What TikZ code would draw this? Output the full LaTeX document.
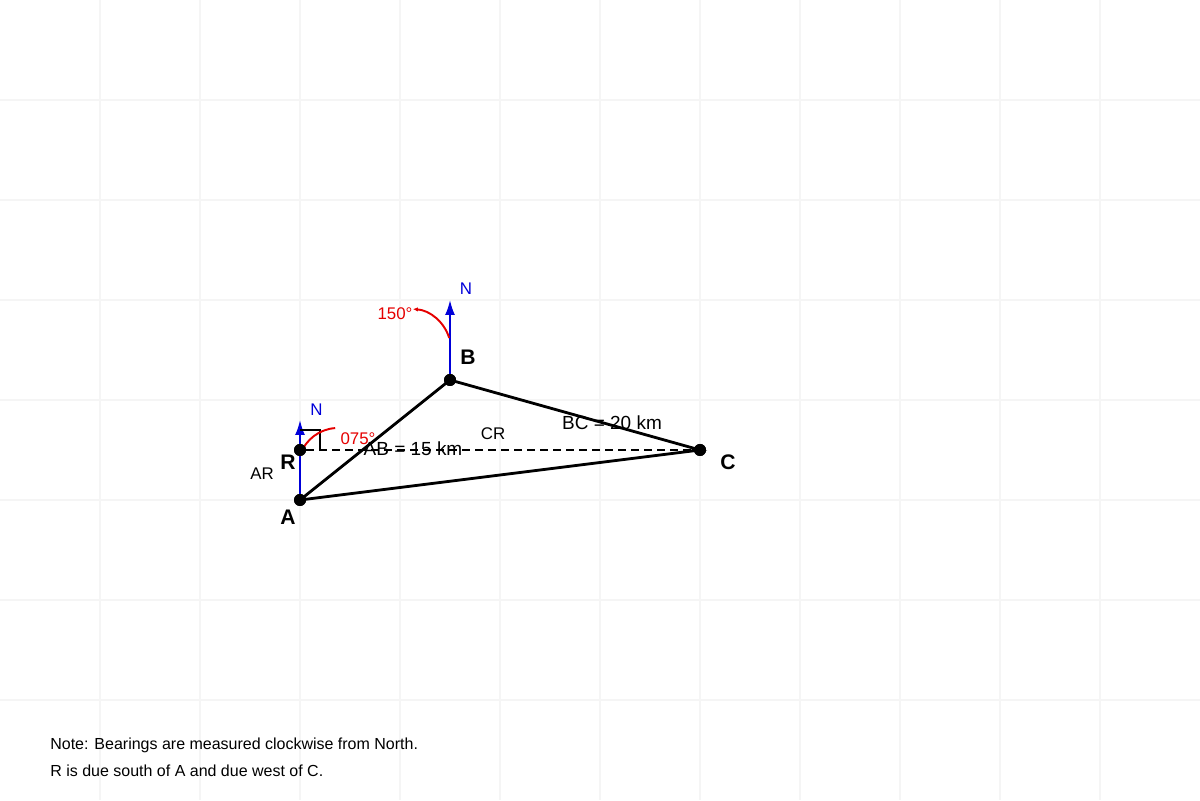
\documentclass[tikz,border=0pt]{standalone}
\usepackage{fontspec}
\setmainfont{Liberation Sans}
\usetikzlibrary{arrows.meta, positioning}

\begin{document}
\begin{tikzpicture}[x=2cm, y=2cm,
gridline/.style = {draw=black!4, line width=0.6pt},
pt/.style = {circle, fill=black, inner sep=0pt, minimum size=2.4mm},
side/.style = {draw=black, line width=1.6pt},
north/.style = {draw=blue!85!black, line width=1.1pt, -{Latex[length=3mm,width=2mm]}},
bearing/.style = {draw=red!90!black, line width=1.1pt},
ptlbl/.style = {font=\fontsize{12}{14}\selectfont\bfseries, inner sep=0pt},
lbl/.style = {font=\fontsize{10.8}{13}\selectfont, inner sep=0pt},
small/.style = {font=\fontsize{9.6}{12}\selectfont, inner sep=0pt},
note/.style = {font=\fontsize{9.1}{11}\selectfont, inner sep=0pt, anchor=west},
                    ]
%---
\useasboundingbox (0,0) rectangle (12,8);
\foreach \x in {1,...,11} \draw[gridline] (\x,0) -- (\x,8);
\foreach \y in {1,...,7} \draw[gridline] (0,\y) -- (12,\y);

\node (A) [pt] at (3,3) {};
\node (R) [pt] at (3,3.5) {};
\node (B) [pt] at (4.5,4.2) {};
\node (C) [pt] at (7,3.5) {};

\coordinate (nA) at (3,3.8);
\coordinate (nB) at (4.5,5);

% north lines
\draw[north] (A.center) -- (nA);
\draw[north] (B.center) -- (nB);

% right angle at R
\draw[black, line width=0.85pt] (3,3.7) -- (3.2,3.7) -- (3.2,3.5);

% bearings
\draw[bearing] (3.004,3.457) arc[start angle=160, end angle=94, radius=0.4];
\draw[bearing, -{Latex[length=1mm,width=0.9mm]}] (4.492,4.62) arc[start angle=17, end angle=86, radius=0.41];

\draw[black, line width=1.1pt, dash pattern=on 1.6mm off 1mm] (R) -- (C);
\draw[side] (A.center) -- (B.center) -- (C.center) -- cycle;

\node (A) [pt] at (3,3) {};
\node (R) [pt] at (3,3.5) {};
\node (B) [pt] at (4.5,4.2) {};
\node (C) [pt] at (7,3.5) {};

\node (A_lbl) [ptlbl] at (2.88,2.83) {A};
\node (R_lbl) [ptlbl] at (2.88,3.38) {R};
\node (B_lbl) [ptlbl] at (4.68,4.43) {B};
\node (C_lbl) [ptlbl] at (7.28,3.38) {C};

\node (nA_lbl) [small, text=blue!85!black, above right=2.1mm and 3.3mm of nA, anchor=center] {N};
\node (nB_lbl) [small, text=blue!85!black, above right=2.2mm and 3.2mm of nB, anchor=center] {N};

\node (brgA) [small, text=red!90!black] at (3.58,3.61) {075°};
\node (brgB) [small, text=red!90!black] at (3.95,4.86) {150°};

\node (AB) [lbl] at (4.13,3.51) {AB = 15 km};
\node (BC) [lbl] at (6.12,3.77) {BC = 20 km};
\node (CR) [small] at (4.93,3.66) {CR};
\node (AR) [small] at (2.62,3.26) {AR};

\node (note1) [note] at (0.5,0.55) {Note: Bearings are measured clockwise from North.};
\node (note2) [note] at (0.5,0.29) {R is due south of A and due west of C.};

\end{tikzpicture}
\end{document}
